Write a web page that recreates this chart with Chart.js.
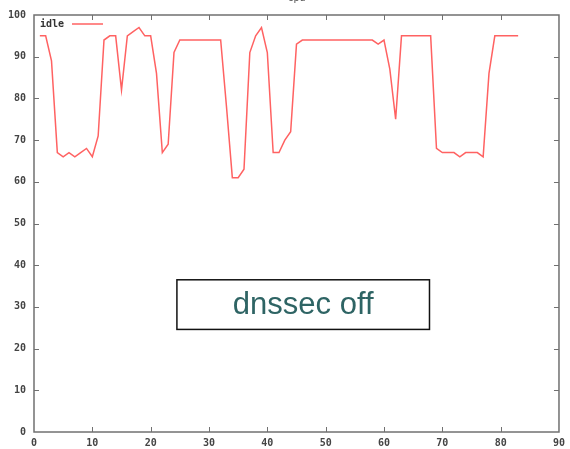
<!DOCTYPE html>
<html>
<head>
<meta charset="utf-8">
<script src="https://cdn.jsdelivr.net/npm/chart.js@4.4.1/dist/chart.umd.min.js"></script>
<style>
  html, body { margin: 0; padding: 0; background: #fff; }
  canvas { display: block; }
</style>
</head>
<body>
<canvas id="cpu-chart" width="570" height="449"></canvas>
<script>
// sample index (x) and idle %
const sampleIdx = [
  1, 2, 3, 4, 5, 6, 7, 8, 9, 10, 11, 12, 13, 14, 15, 16, 17, 18, 19, 20,
  21, 22, 23, 24, 25, 26, 27, 28, 29, 30, 31, 32, 33, 34, 35, 36, 37, 38, 39, 40,
  41, 42, 43, 44, 45, 46, 47, 48, 49, 50, 51, 52, 53, 54, 55, 56, 57, 58, 59, 60,
  61, 62, 63, 64, 65, 66, 67, 68, 69, 70, 71, 72, 73, 74, 75, 76, 77, 78, 79, 80,
  81, 82, 83
];
const idleValues = [
  95, 95, 89, 67, 66, 67, 66, 67, 68, 66, 71, 94, 95, 95, 82, 95, 96, 97, 95, 95,
  86, 67, 69, 91, 94, 94, 94, 94, 94, 94, 94, 94, 78, 61, 61, 63, 91, 95, 97, 91,
  67, 67, 70, 72, 93, 94, 94, 94, 94, 94, 94, 94, 94, 94, 94, 94, 94, 94, 93, 94,
  87, 75, 95, 95, 95, 95, 95, 95, 68, 67, 67, 67, 66, 67, 67, 67, 66, 86, 95, 95,
  95, 95, 95
];
const xTicks = [0, 10, 20, 30, 40, 50, 60, 70, 80, 90];
const yTicks = [0, 10, 20, 30, 40, 50, 60, 70, 80, 90, 100];
const chartTitle = 'cpu';
const seriesName = 'idle';
const noteText = 'dnssec off';

const LINE_RED = '#ff6262';
const AXIS_GREY = '#707070';
const LABEL_FONT = { family: '"DejaVu Sans Mono", monospace', size: 10, weight: 'bold' };

// gnuplot-ish frame: box, inward ticks on all four sides, title, legend, note box
const gnuplotFrame = {
  id: 'gnuplotFrame',
  afterDatasetsDraw(chart) {
    const { ctx, chartArea: a, scales } = chart;
    const xs = scales.x, ys = scales.y;
    ctx.save();

    ctx.strokeStyle = AXIS_GREY;
    ctx.lineWidth = 1.5;
    ctx.strokeRect(a.left, a.top, a.right - a.left, a.bottom - a.top);

    ctx.lineWidth = 1;
    ctx.beginPath();
    xTicks.slice(1, -1).forEach(v => {
      const px = Math.round(xs.getPixelForValue(v)) + 0.5;
      ctx.moveTo(px, a.bottom); ctx.lineTo(px, a.bottom - 5);
      ctx.moveTo(px, a.top); ctx.lineTo(px, a.top + 5);
    });
    yTicks.slice(1, -1).forEach(v => {
      const py = Math.round(ys.getPixelForValue(v)) + 0.5;
      ctx.moveTo(a.left, py); ctx.lineTo(a.left + 5, py);
      ctx.moveTo(a.right, py); ctx.lineTo(a.right - 5, py);
    });
    ctx.stroke();

    // title, mostly clipped off the top like the original
    ctx.fillStyle = '#555';
    ctx.font = '10px "DejaVu Sans Mono", monospace';
    ctx.textAlign = 'center';
    ctx.textBaseline = 'alphabetic';
    ctx.fillText(chartTitle, (a.left + a.right) / 2, 1);

    // legend
    ctx.font = 'bold 10px "DejaVu Sans Mono", monospace';
    ctx.textAlign = 'left';
    ctx.textBaseline = 'middle';
    ctx.fillStyle = '#333';
    ctx.fillText(seriesName, a.left + 6, a.top + 9);
    ctx.strokeStyle = LINE_RED;
    ctx.lineWidth = 1.5;
    ctx.beginPath();
    ctx.moveTo(a.left + 38, a.top + 9);
    ctx.lineTo(a.left + 69, a.top + 9);
    ctx.stroke();

    // note box
    const bx0 = xs.getPixelForValue(24.5), bx1 = xs.getPixelForValue(67.8);
    const by0 = ys.getPixelForValue(36.5), by1 = ys.getPixelForValue(24.6);
    ctx.fillStyle = '#fff';
    ctx.fillRect(bx0, by0, bx1 - bx0, by1 - by0);
    ctx.strokeStyle = '#111';
    ctx.lineWidth = 1.5;
    ctx.strokeRect(bx0, by0, bx1 - bx0, by1 - by0);
    ctx.fillStyle = '#2e6464';
    ctx.font = '31px "Liberation Sans", Arial, sans-serif';
    ctx.textAlign = 'center';
    ctx.textBaseline = 'middle';
    ctx.fillText(noteText, (bx0 + bx1) / 2, (by0 + by1) / 2 + 1);

    ctx.restore();
  }
};

const points = sampleIdx.map((x, i) => ({ x, y: idleValues[i] }));

new Chart(document.getElementById('cpu-chart'), {
  type: 'line',
  data: {
    datasets: [{
      label: seriesName,
      data: points,
      borderColor: LINE_RED,
      borderWidth: 1.5,
      pointRadius: 0,
      tension: 0,
      fill: false
    }]
  },
  options: {
    responsive: false,
    animation: false,
    layout: { padding: { top: 15, right: 10, left: 0, bottom: 0 } },
    plugins: {
      legend: { display: false },
      tooltip: { enabled: false },
      title: { display: false }
    },
    scales: {
      x: {
        type: 'linear',
        min: 0,
        max: 90,
        afterBuildTicks: s => { s.ticks = xTicks.map(v => ({ value: v })); },
        afterFit: s => { s.height = 17; },
        ticks: { color: '#444', font: LABEL_FONT, padding: 5, maxRotation: 0, autoSkip: false },
        grid: { display: false, drawTicks: false },
        border: { display: false }
      },
      y: {
        min: 0,
        max: 100,
        afterBuildTicks: s => { s.ticks = yTicks.map(v => ({ value: v })); },
        afterFit: s => { s.width = 34; },
        ticks: { color: '#444', font: LABEL_FONT, padding: 8, autoSkip: false },
        grid: { display: false, drawTicks: false },
        border: { display: false }
      }
    }
  },
  plugins: [gnuplotFrame]
});
</script>
</body>
</html>
